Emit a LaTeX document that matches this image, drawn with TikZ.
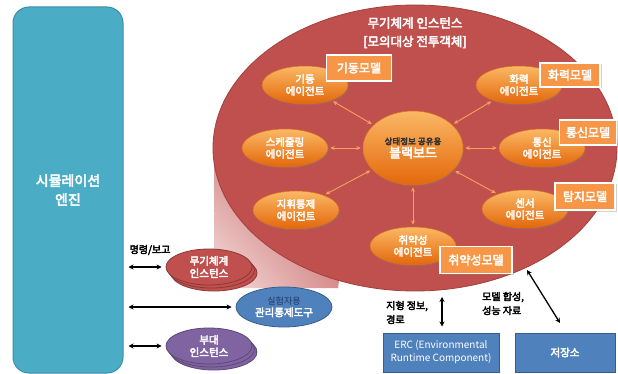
\documentclass[tikz,border=0pt]{standalone}
\usepackage{fontspec}
\setmainfont{Noto Sans CJK KR}
\newfontfamily\krb{Noto Sans CJK KR}[FakeBold=3.5]
\usetikzlibrary{shapes.geometric,arrows.meta,shadows,shadings}
\definecolor{engteal}{HTML}{4BACC6}
\definecolor{engtealD}{HTML}{3A8FA6}
\definecolor{bigred}{HTML}{C0504D}
\definecolor{bigredD}{HTML}{A3403D}
\definecolor{orgF}{HTML}{F79646}
\definecolor{orgL}{HTML}{FBB865}
\definecolor{orgD}{HTML}{E3670A}
\definecolor{orgB}{HTML}{D9731F}
\definecolor{arrO}{HTML}{F6A15B}
\definecolor{bluB}{HTML}{4F81BD}
\definecolor{bluD}{HTML}{385D8A}
\definecolor{purP}{HTML}{8064A2}
\definecolor{purD}{HTML}{5C4776}
\definecolor{redD}{HTML}{8C3836}
\definecolor{navyT}{HTML}{1F3864}
\definecolor{pinkL}{HTML}{F5E0E0}
\definecolor{pinkM}{HTML}{D58A88}
\begin{document}
\begin{tikzpicture}[x=1pt,y=-1pt,
  engbox/.style={draw=engtealD,line width=1pt,fill=engteal,rounded corners=16pt,
    minimum width=110pt,minimum height=366pt,inner sep=0pt,text=white,align=center,
    font=\krb\fontsize{14}{19}\selectfont},
  bigell/.style={ellipse,draw=bigredD,line width=0.8pt,fill=bigred,
    minimum width=404pt,minimum height=286pt,inner sep=0pt},
  titletxt/.style={text=white,font=\krb\fontsize{12.5}{15}\selectfont,inner sep=0pt},
  agent/.style={ellipse,top color=orgL,bottom color=orgD,draw=orgB,line width=0.5pt,
    minimum width=86pt,minimum height=38pt,inner sep=0pt,align=center,text=white,
    font=\krb\fontsize{10.5}{12}\selectfont,
    drop shadow={shadow xshift=1pt,shadow yshift=-1.5pt,opacity=0.35}},
  modelbox/.style={draw=white,line width=1.6pt,fill=orgF,text=white,
    font=\krb\fontsize{12}{14}\selectfont,inner sep=0pt,
    drop shadow={shadow xshift=1.5pt,shadow yshift=-1.5pt,opacity=0.35}},
  oarrow/.style={draw=arrO,line width=0.9pt,{Stealth[length=4.5pt,width=4pt]}-{Stealth[length=4.5pt,width=4pt]},
    shorten <=2pt,shorten >=2pt},
  barrow/.style={draw=black,line width=1.3pt,{Stealth[length=5pt,width=5pt]}-{Stealth[length=5pt,width=5pt]}},
  inst/.style={ellipse,line width=0.8pt,minimum width=86pt,minimum height=36pt,inner sep=0pt,
    align=center,text=white,font=\krb\fontsize{10.5}{12.5}\selectfont},
  redinst/.style={inst,fill=bigred,draw=redD},
  purinst/.style={inst,fill=purP,draw=purD},
  bluebox/.style={draw=bluD,line width=1pt,fill=bluB,inner sep=0pt,align=center,text=white,
    font=\fontsize{10}{13}\selectfont},
  lbl/.style={text=black,font=\krb\fontsize{10}{14}\selectfont,inner sep=0pt,align=left}
]
\useasboundingbox (0,0) rectangle (618,374);
\fill[white] (0,0) rectangle (618,374);

% simulation engine
\node[engbox] (eng) at (68,190) {시뮬레이션\\엔진};

% projection shading
\shade[upper left=pinkM,lower left=pinkL,upper right=bigred,lower right=pinkM]
  (214,140) -- (215,288) -- (338,288) -- (345,240) -- cycle;

% big ellipse
\node[bigell] (big) at (415,148) {};
\node[titletxt] (title1) at (415,23) {무기체계 인스턴스};
\node[titletxt] (title2) at (415,42) {[모의대상 전투객체]};

% blackboard and agents
\node[agent,minimum width=100pt,minimum height=74pt] (bb) at (413,148)
  {{\fontsize{8.5}{10}\selectfont\color{black!80}상태정보 공유용}\\[1pt]{\fontsize{13}{15}\selectfont 블랙보드}};
\node[agent] (agGi) at (305,85) {기동\\에이전트};
\node[agent] (agHw) at (519,85) {화력\\에이전트};
\node[agent] (agSc) at (285,148) {스케줄링\\에이전트};
\node[agent] (agCo) at (542,148) {통신\\에이전트};
\node[agent] (agCm) at (296,210) {지휘통제\\에이전트};
\node[agent] (agSe) at (525,209) {센서\\에이전트};
\node[agent] (agVu) at (413,246) {취약성\\에이전트};

\draw[oarrow] (bb) -- (agGi);
\draw[oarrow] (bb) -- (agHw);
\draw[oarrow] (bb) -- (agSc);
\draw[oarrow] (bb) -- (agCo);
\draw[oarrow] (bb) -- (agCm);
\draw[oarrow] (bb) -- (agSe);
\draw[oarrow] (bb) -- (agVu);

% model boxes
\node[modelbox,minimum width=65pt,minimum height=26pt] (mGi) at (359,68) {기동모델};
\node[modelbox,minimum width=60pt,minimum height=24pt] (mHw) at (570,75) {화력모델};
\node[modelbox,minimum width=57pt,minimum height=25pt] (mCo) at (588,132.5) {통신모델};
\node[modelbox,minimum width=60pt,minimum height=27pt] (mSe) at (585,196.5) {탐지모델};
\node[modelbox,minimum width=72pt,minimum height=27pt] (mVu) at (476,260) {취약성모델};

% weapon system instance stack
\node[redinst] (ins1c) at (214,273) {};
\node[redinst] (ins1b) at (211.5,270) {};
\node[redinst] (ins1) at (209,267) {무기체계\\인스턴스};

% management tool
\node[ellipse,fill=bluB,draw=bluD,line width=0.8pt,minimum width=96pt,minimum height=40pt,
  inner sep=0pt,align=center] (mgr) at (284,307)
  {{\fontsize{9}{11}\selectfont\color{navyT}실험자용}\\{\krb\fontsize{10.5}{12.5}\selectfont\color{white}관리통제도구}};

% unit instance stack
\node[purinst] (ins2c) at (214,352) {};
\node[purinst] (ins2b) at (211.5,349) {};
\node[purinst] (ins2) at (209,346) {부대\\인스턴스};

% left arrows
\node[lbl] (cmdlbl) at (150,250) {명령/보고};
\draw[barrow,shorten <=5pt,shorten >=4pt] (eng.east |- ins1) -- (ins1.west);
\draw[barrow,shorten <=5pt,shorten >=4pt] (eng.east |- mgr) -- (mgr.west);
\draw[barrow,shorten <=5pt,shorten >=4pt] (eng.east |- ins2) -- (ins2.west);

% bottom boxes
\node[bluebox,minimum width=116pt,minimum height=39pt] (erc) at (441,352.5)
  {ERC (Environmental\\Runtime Component)};
\node[bluebox,minimum width=100pt,minimum height=39pt,font=\krb\fontsize{10.5}{13}\selectfont] (store) at (565,352.5) {저장소};

\coordinate (v1) at (442,297);
\draw[barrow,shorten >=6pt] (v1) -- (v1 |- erc.north);
\node[lbl,anchor=west] (terrain) at (386,312.5) {지형 정보,\\경로};

\coordinate (d1) at (527,270);
\coordinate (d2) at (560,323);
\draw[barrow] (d1) -- (d2);
\node[lbl,anchor=west] (synth) at (482,303.5) {모델 합성,\\성능 자료};
\end{tikzpicture}
\end{document}
